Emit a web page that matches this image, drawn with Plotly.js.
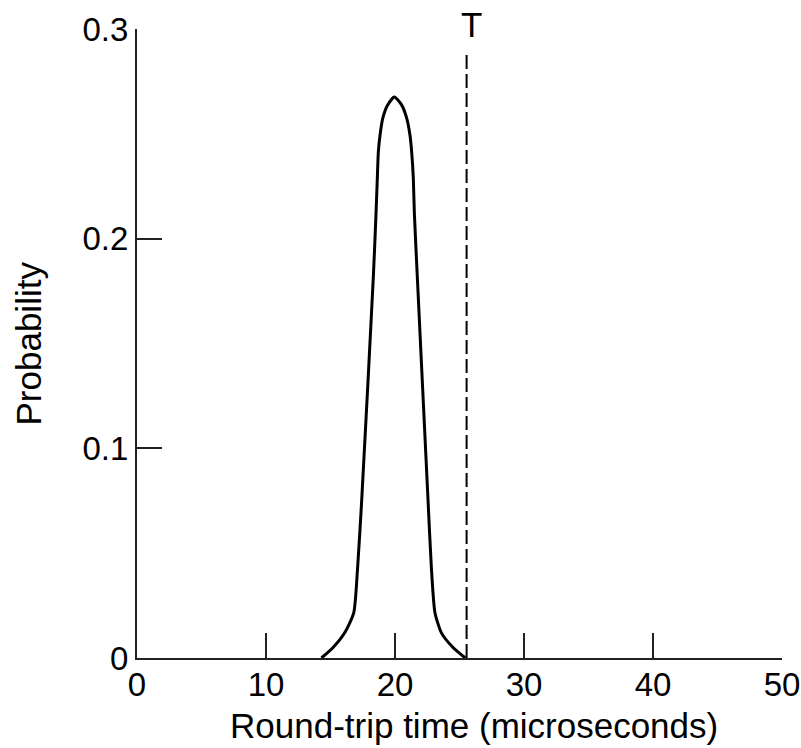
<!DOCTYPE html>
<html>
<head>
<meta charset="utf-8">
<script src="https://cdn.plot.ly/plotly-3.0.1.min.js"></script>
<style>
  html, body { margin: 0; padding: 0; background: #fff; }
  #chart { width: 801px; height: 748px; }
</style>
</head>
<body>
<div id="chart"></div>
<script>
// Round-trip time distribution
const rttMicroseconds = [14.3, 15.2, 16.1, 16.8, 17.1, 17.42, 18.32, 18.53, 18.63, 18.71, 18.84, 19.05, 19.43, 19.95, 20.52, 20.91, 21.16, 21.29, 21.42, 21.5, 21.73, 22.56, 22.82, 23.1, 23.6, 24.5, 25.45];
const probability     = [0, 0.005, 0.012, 0.0215, 0.043, 0.0754, 0.1817, 0.2122, 0.2289, 0.2415, 0.2494, 0.2574, 0.2637, 0.2676, 0.2637, 0.2574, 0.2494, 0.2415, 0.2289, 0.2122, 0.1817, 0.0754, 0.043, 0.0215, 0.012, 0.005, 0];

// Timeout marker T
const timeoutX = [25.55, 25.55];
const timeoutY = [0, 0.289];
const timeoutLabel = "T";

const xTickVals = [0, 10, 20, 30, 40, 50];
const xTickText = ["0", "10", "20", "30", "40", "50"];
const yTickVals = [0, 0.1, 0.2, 0.3];
const yTickText = ["0", "0.1", "0.2", "0.3"];

const xTitle = "Round-trip time (microseconds)";
const yTitle = "Probability";

const FONT = "Liberation Sans, Arial, Helvetica, sans-serif";

const traces = [
  {
    x: rttMicroseconds, y: probability,
    type: "scatter", mode: "lines",
    line: { color: "#000", width: 3, shape: "spline", smoothing: 0.6 },
    hoverinfo: "skip", showlegend: false
  },
  {
    x: timeoutX, y: timeoutY,
    type: "scatter", mode: "lines",
    line: { color: "#000", width: 2, dash: "14px,5px" },
    hoverinfo: "skip", showlegend: false
  }
];

const axisCommon = {
  showgrid: false, zeroline: false,
  showline: true, linecolor: "#222", linewidth: 2,
  ticks: "inside", ticklen: 25, tickwidth: 2, tickcolor: "#222",
  tickfont: { family: FONT, size: 33, color: "#000" },
  tickmode: "array", fixedrange: true
};

const layout = {
  width: 801, height: 748,
  margin: { l: 137, r: 19, t: 29, b: 90, pad: 0 },
  paper_bgcolor: "#fff", plot_bgcolor: "#fff",
  font: { family: FONT, color: "#000" },
  xaxis: Object.assign({}, axisCommon, {
    range: [0, 50], tickvals: xTickVals, ticktext: xTickText,
    ticklabelstandoff: -4
  }),
  yaxis: Object.assign({}, axisCommon, {
    range: [0, 0.3], tickvals: yTickVals, ticktext: yTickText
  }),
  annotations: [
    {
      text: timeoutLabel, x: 25.95, y: 1 + (29 - 24) / 629, xref: "x", yref: "paper",
      showarrow: false, font: { family: FONT, size: 35, color: "#000" },
      xanchor: "center", yanchor: "middle"
    },
    {
      text: xTitle, x: (474 - 137) / 645, y: -(725 - 658) / 629, xref: "paper", yref: "paper",
      showarrow: false, font: { family: FONT, size: 35, color: "#000" },
      xanchor: "center", yanchor: "middle"
    },
    {
      text: yTitle, x: (28 - 137) / 645, y: 0.5, xref: "paper", yref: "paper",
      showarrow: false, textangle: -90, font: { family: FONT, size: 35, color: "#000" },
      xanchor: "center", yanchor: "middle"
    }
  ]
};

Plotly.newPlot("chart", traces, layout, { staticPlot: true, displayModeBar: false });
</script>
</body>
</html>
